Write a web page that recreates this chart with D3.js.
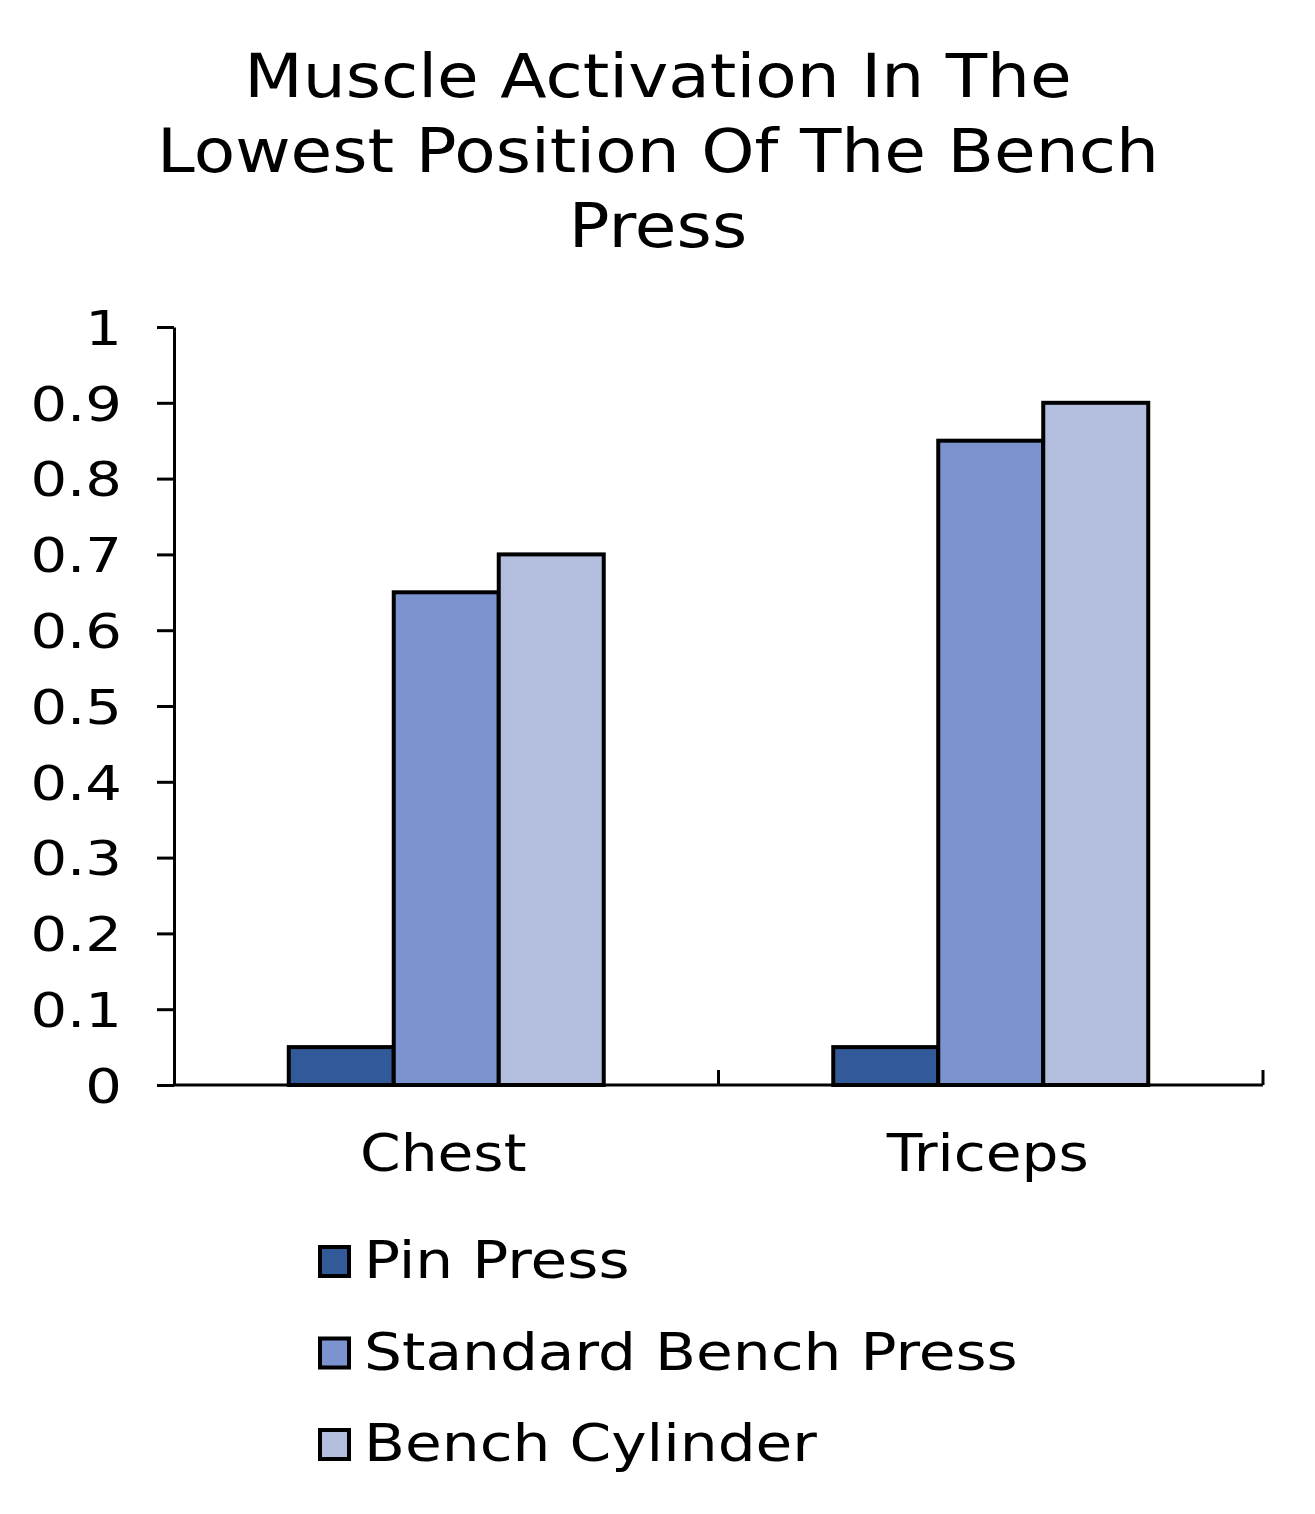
<!DOCTYPE html>
<html>
<head>
<meta charset="utf-8">
<script src="https://cdn.jsdelivr.net/npm/d3@7"></script>
<style>
  body { margin: 0; background: #fff; }
  text { font-family: "DejaVu Sans", sans-serif; fill: #000; }
</style>
</head>
<body>
<svg id="chart" width="1315" height="1514"></svg>
<script>
'use strict';

let titleLines = ["Muscle Activation In The", "Lowest Position Of The Bench", "Press"]
let categories = ["Chest", "Triceps"]
let seriesNames = ["Pin Press", "Standard Bench Press", "Bench Cylinder"]
let pinPress = [0.05, 0.05]
let standardBench = [0.65, 0.85]
let benchCylinder = [0.70, 0.90]
let seriesColors = ["#325a99", "#7b93ce", "#b3bede"]
let yTicks = [0, 0.1, 0.2, 0.3, 0.4, 0.5, 0.6, 0.7, 0.8, 0.9, 1]

let seriesValues = [pinPress, standardBench, benchCylinder]

let svg = d3.select("#chart")
let margin = { left: 174, right: 52, top: 327, bottom: 429 }
let width = +svg.attr("width")
let height = +svg.attr("height")

// the original font is an extended face, so stretch the text a bit
function stretched(sel, x, y, sx) {
    sel.attr("x", 0).attr("y", 0)
        .attr("transform", "translate(" + x + "," + y + ") scale(" + sx + ",1)")
}

let x0 = d3.scaleBand()
    .domain(categories)
    .range([margin.left, width - margin.right])
    .padding(0)

let x1 = d3.scaleBand()
    .domain(seriesNames)
    .range([0, x0.bandwidth()])
    .paddingInner(0)
    .paddingOuter(1.093)

let y = d3.scaleLinear()
    .domain([0, 1])
    .range([height - margin.bottom, margin.top])

let color = d3.scaleOrdinal().domain(seriesNames).range(seriesColors)

// title
svg.append("g")
    .selectAll("text")
    .data(titleLines)
    .enter().append("text")
    .attr("text-anchor", "middle")
    .attr("font-size", 60)
    .text(d => d)
    .each(function(d, i) { stretched(d3.select(this), 658, 97 + i * 75, 1.13) })

// y axis
let yAxis = svg.append("g")
    .attr("transform", "translate(" + margin.left + ",0)")
    .call(d3.axisLeft(y).tickValues(yTicks).tickSize(17).tickSizeOuter(0).tickFormat(d3.format("~g")))
yAxis.select(".domain").attr("stroke", "#000").attr("stroke-width", 3)
yAxis.selectAll(".tick line").attr("stroke", "#000").attr("stroke-width", 3)
yAxis.selectAll(".tick text")
    .attr("dy", "0.36em")
    .attr("font-size", 48)
    .attr("font-family", "DejaVu Sans, sans-serif")
    .attr("fill", "#000")
    .each(function() { stretched(d3.select(this), -52, 0, 1.2) })

// bars
let groups = svg.append("g")
    .selectAll("g")
    .data(categories)
    .enter().append("g")
    .attr("transform", d => "translate(" + x0(d) + ",0)")

groups.selectAll("rect")
    .data((d, ci) => seriesNames.map((s, si) => ({ series: s, value: seriesValues[si][ci] })))
    .enter().append("rect")
    .attr("x", d => x1(d.series))
    .attr("y", d => y(d.value))
    .attr("width", x1.bandwidth())
    .attr("height", d => y(0) - y(d.value))
    .attr("fill", d => color(d.series))
    .attr("stroke", "#000")
    .attr("stroke-width", 4)

// x axis
let xAxis = svg.append("g")
xAxis.append("line")
    .attr("x1", margin.left)
    .attr("x2", width - margin.right)
    .attr("y1", y(0))
    .attr("y2", y(0))
    .attr("stroke", "#000")
    .attr("stroke-width", 3)
xAxis.selectAll(".xtick")
    .data(categories)
    .enter().append("line")
    .attr("class", "xtick")
    .attr("x1", d => x0(d) + x0.bandwidth())
    .attr("x2", d => x0(d) + x0.bandwidth())
    .attr("y1", y(0))
    .attr("y2", y(0) - 15)
    .attr("stroke", "#000")
    .attr("stroke-width", 3)
xAxis.selectAll(".xlabel")
    .data(categories)
    .enter().append("text")
    .attr("class", "xlabel")
    .attr("text-anchor", "middle")
    .attr("font-size", 52)
    .text(d => d)
    .each(function(d) { stretched(d3.select(this), x0(d) + x0.bandwidth() / 2 - 3, 1171, 1.12) })

// legend
let legend = svg.append("g")
    .selectAll("g")
    .data(seriesNames)
    .enter().append("g")
    .attr("transform", (d, i) => "translate(318," + (1245 + i * 91.5) + ")")

legend.append("rect")
    .attr("x", 2)
    .attr("y", 2)
    .attr("width", 29)
    .attr("height", 29)
    .attr("fill", d => color(d))
    .attr("stroke", "#000")
    .attr("stroke-width", 4)

legend.append("text")
    .attr("font-size", 52)
    .text(d => d)
    .each(function() { stretched(d3.select(this), 46, 33, 1.15) })
</script>
</body>
</html>
